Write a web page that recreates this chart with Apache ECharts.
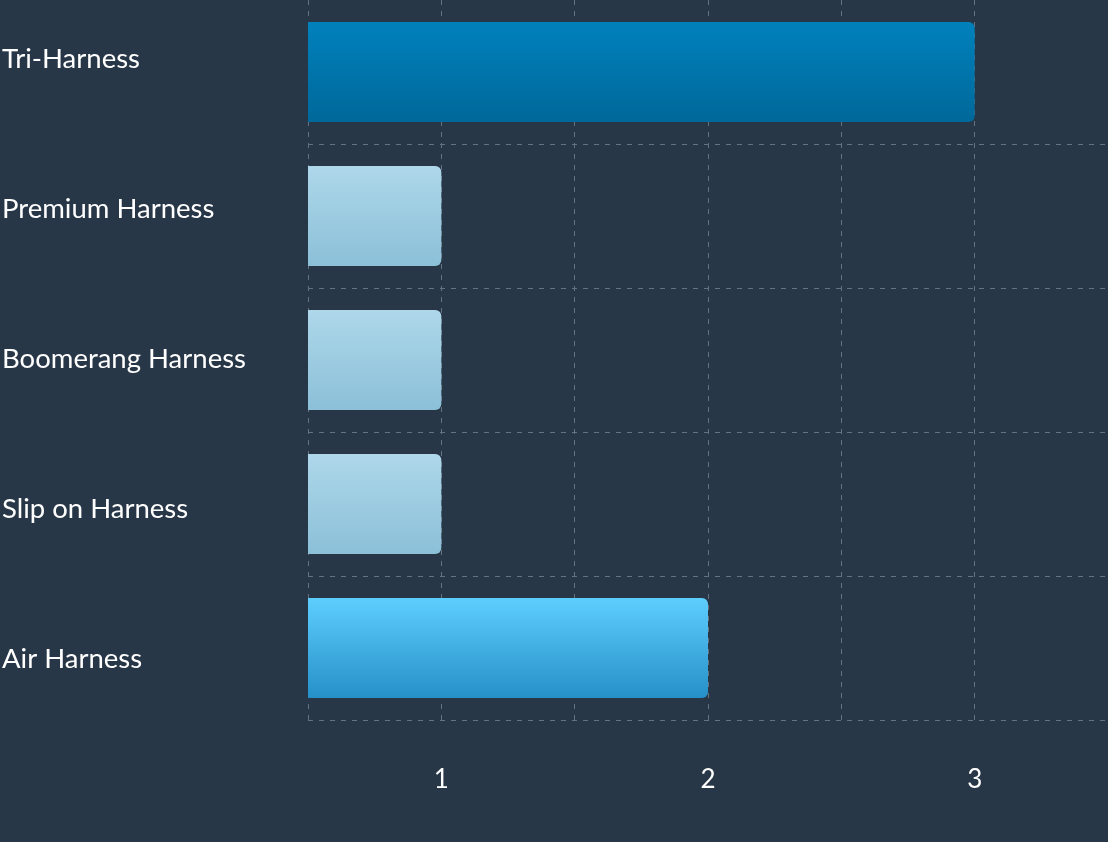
<!DOCTYPE html>
<html>
<head>
<meta charset="utf-8">
<script src="https://cdn.jsdelivr.net/npm/echarts@6/dist/echarts.min.js"></script>
<style>
html,body{margin:0;padding:0;background:#283748;}
#chart{width:1108px;height:842px;}
</style>
</head>
<body>
<div id="chart"></div>
<script>
const categories = ['Tri-Harness', 'Premium Harness', 'Boomerang Harness', 'Slip on Harness', 'Air Harness'];
const values = [3, 1, 1, 1, 2];
const tickLabels = ['1', '2', '3'];

const palette = {
  dark: ['#0081bc', '#00689a'],
  light: ['#aed7ea', '#8bc0d8'],
  bright: ['#5ecefe', '#2590c8']
};
const colorKeys = ['dark', 'light', 'light', 'light', 'bright'];

const gridColor = '#65717e';
const fontFamily = 'Lato, "Open Sans", sans-serif';

function grad(c) {
  return new echarts.graphic.LinearGradient(0, 0, 0, 1, [
    { offset: 0, color: c[0] },
    { offset: 1, color: c[1] }
  ]);
}

const chart = echarts.init(document.getElementById('chart'), null, { renderer: 'canvas' });
chart.setOption({
  backgroundColor: '#283748',
  animation: false,
  grid: [
    { left: 308, right: 0, top: 0, height: 720, outerBoundsMode: 'none', containLabel: false },
    { left: 308, width: 10, top: -16, height: 750, outerBoundsMode: 'none', containLabel: false }
  ],
  xAxis: [
    {
      type: 'value', gridIndex: 0, min: 0.5, max: 3.5, interval: 0.5,
      axisLine: { show: false },
      axisTick: { show: false },
      axisLabel: {
        color: '#ffffff', fontSize: 26, fontFamily: fontFamily, margin: 47,
        formatter: function (v) { const s = String(v); return tickLabels.indexOf(s) >= 0 ? s : ''; }
      },
      splitLine: { show: true, showMinLine: true, showMaxLine: false,
        lineStyle: { color: gridColor, type: [5, 6], width: 1 } }
    },
    { type: 'value', gridIndex: 1, min: 0, max: 1, show: false }
  ],
  yAxis: [
    {
      type: 'category', gridIndex: 0, data: categories, inverse: true,
      axisLine: { show: false }, axisTick: { show: false }, axisLabel: { show: false },
      splitLine: { show: true, showMinLine: false, showMaxLine: true,
        lineStyle: { color: gridColor, type: [5, 6], width: 1 } }
    },
    {
      type: 'category', gridIndex: 1, data: categories, inverse: true,
      axisLine: { show: false }, axisTick: { show: false },
      axisLabel: { color: '#ffffff', fontSize: 27.5, fontFamily: fontFamily, align: 'left', margin: 306 },
      splitLine: { show: false }
    }
  ],
  series: [{
    type: 'bar',
    xAxisIndex: 0, yAxisIndex: 0,
    barWidth: 100,
    data: values.map(function (v, i) {
      return { value: v, itemStyle: { color: grad(palette[colorKeys[i]]), borderRadius: [0, 6, 6, 0] } };
    })
  }]
});
</script>
</body>
</html>
